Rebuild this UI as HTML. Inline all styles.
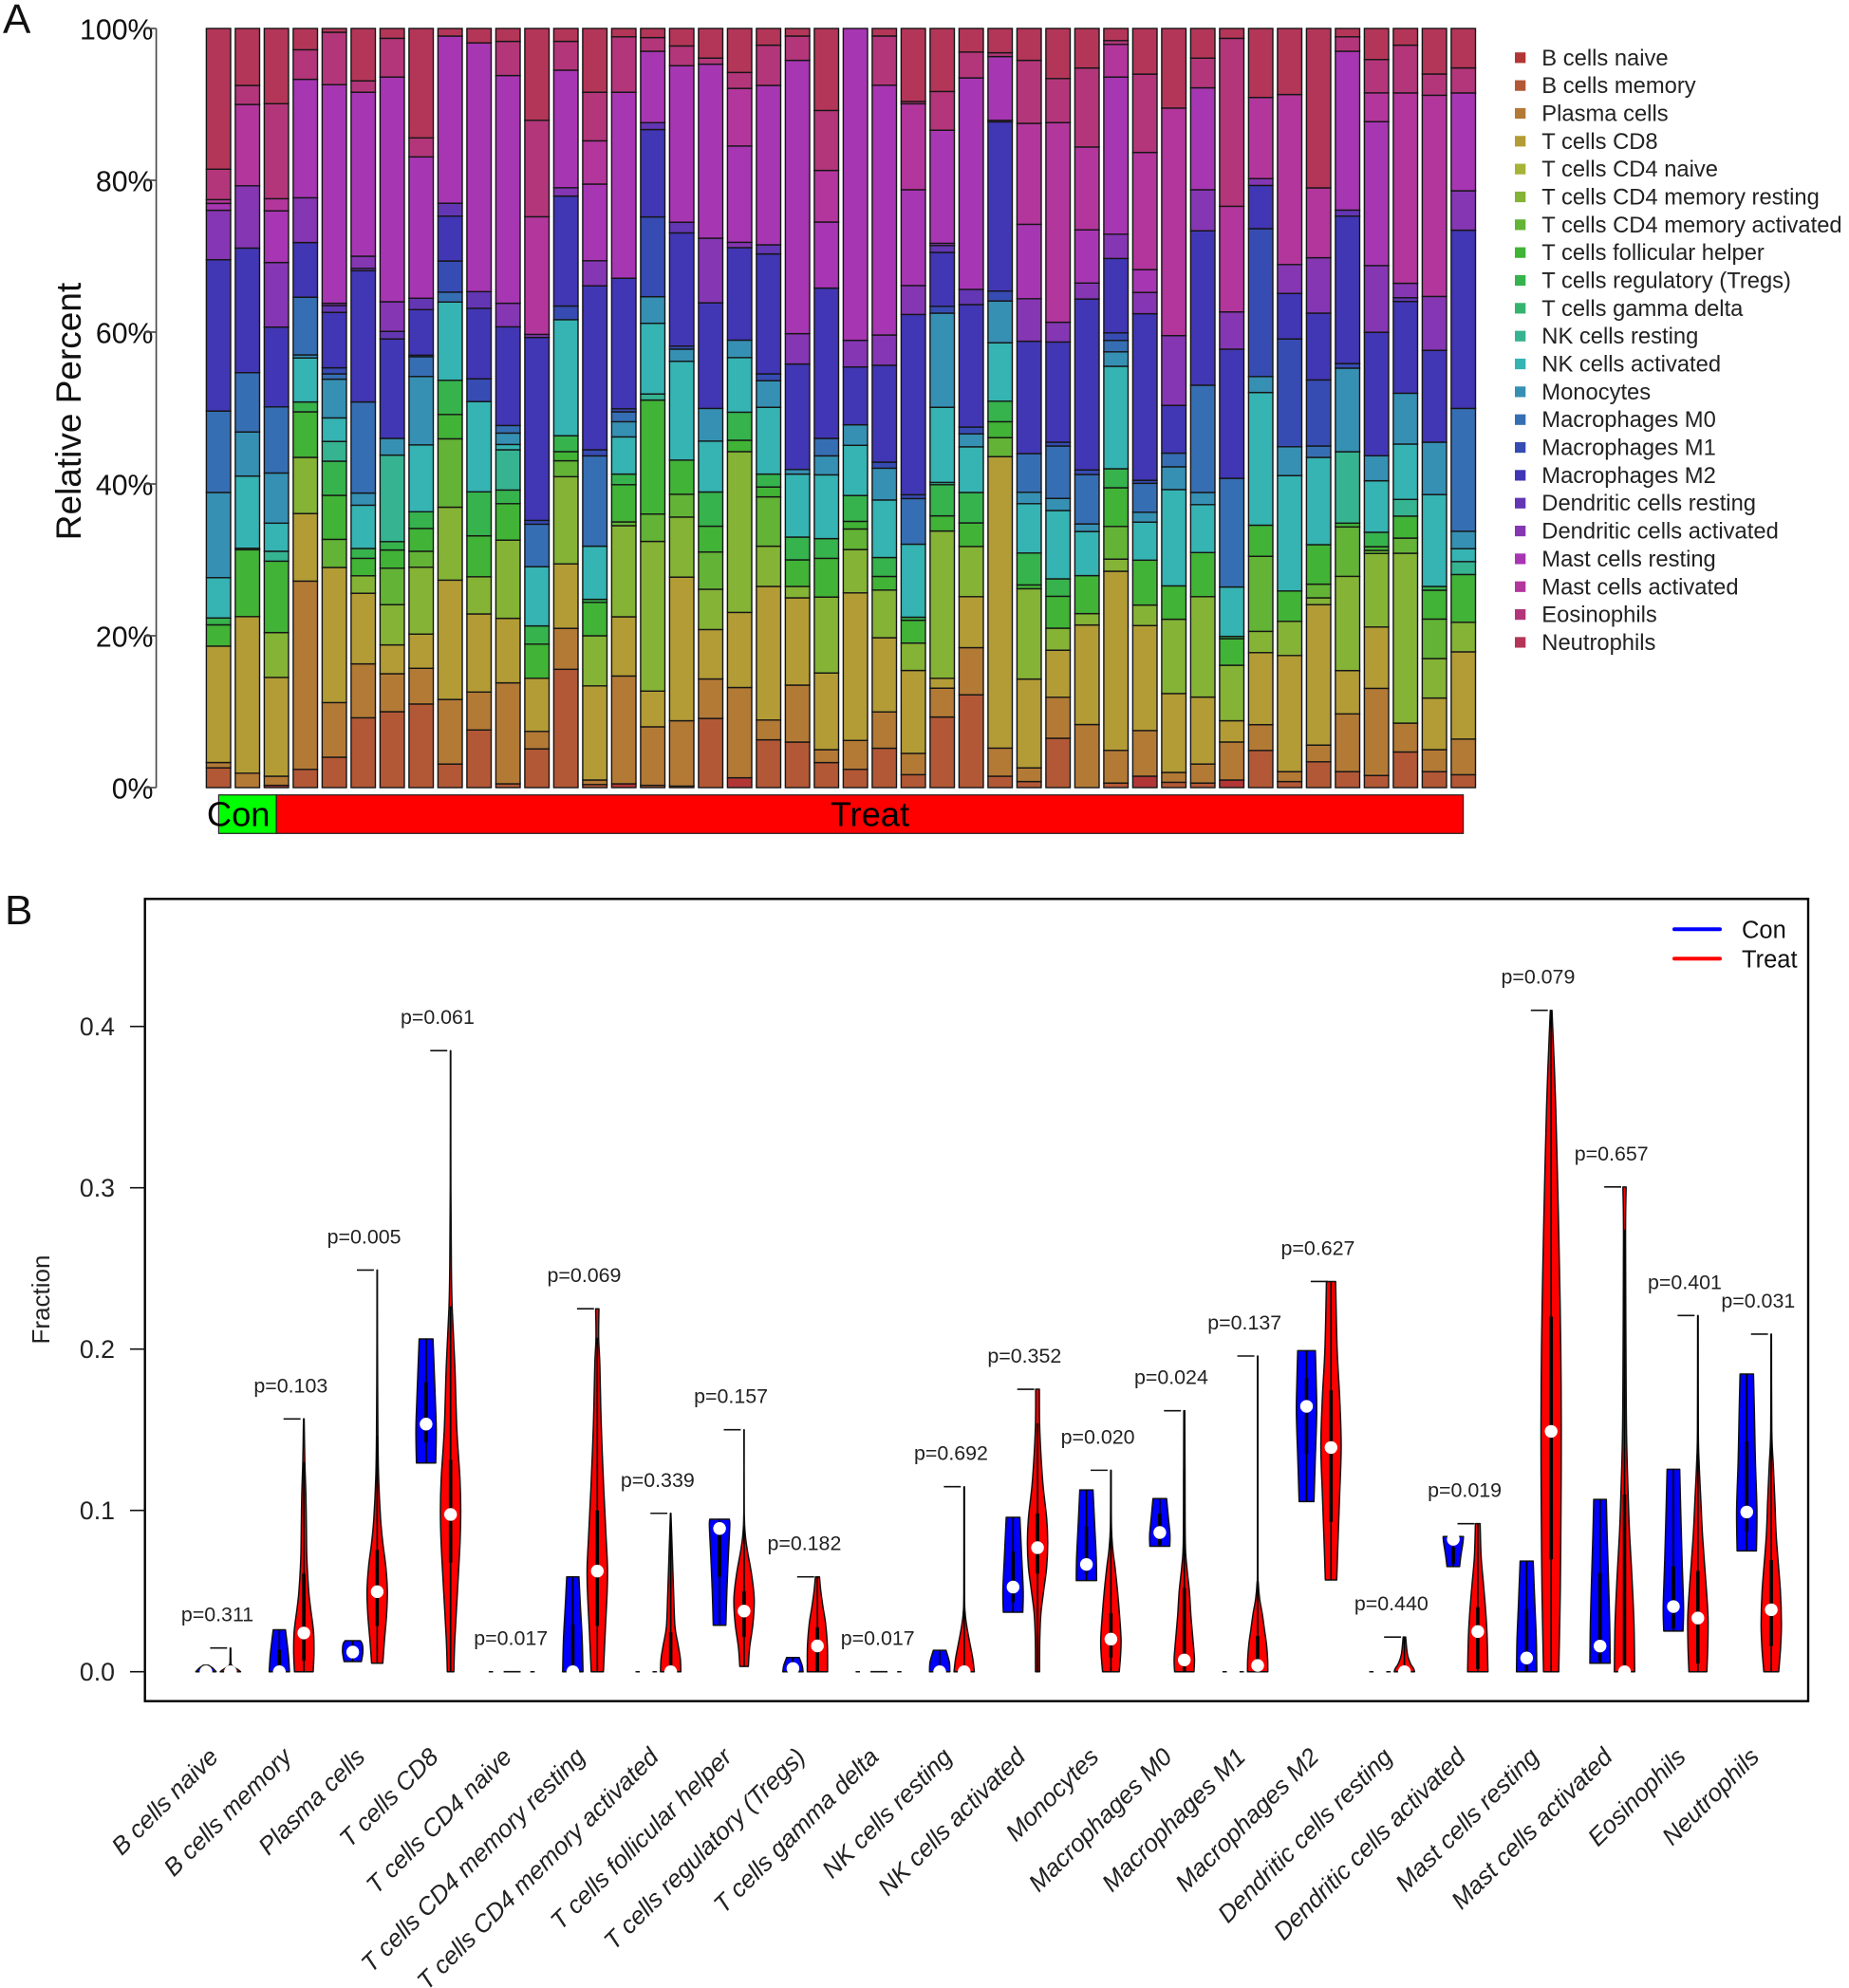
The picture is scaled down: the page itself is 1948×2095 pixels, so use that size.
<!DOCTYPE html>
<html lang="en">
<head>
<meta charset="utf-8">
<title>Immune cell fractions</title>
<style>
html,body{margin:0;padding:0;background:#fff;}
svg{display:block;}
text{font-family:"Liberation Sans",Arial,sans-serif;fill:#111;}
</style>
</head>
<body>
<svg id="figure" xmlns="http://www.w3.org/2000/svg" width="1948" height="2095" viewBox="0 0 1948 2095">
  <rect x="0" y="0" width="1948" height="2095" fill="#fff"/>
  <text x="3" y="35" font-size="44">A</text>
  <text x="5" y="974" font-size="44">B</text>
  <g id="panelA"></g>
  <g id="panelB"></g>
</svg>
<script>
const cellTypes = ["B cells naive","B cells memory","Plasma cells","T cells CD8","T cells CD4 naive","T cells CD4 memory resting","T cells CD4 memory activated","T cells follicular helper","T cells regulatory (Tregs)","T cells gamma delta","NK cells resting","NK cells activated","Monocytes","Macrophages M0","Macrophages M1","Macrophages M2","Dendritic cells resting","Dendritic cells activated","Mast cells resting","Mast cells activated","Eosinophils","Neutrophils"];
const percentTicks = [0,20,40,60,80,100];
const fractionTicks = [0,0.1,0.2,0.3,0.4];
const groupNames = ["Con","Treat"];
const groupSizes = [2,42];

// Percent of each cell type per sample, in cellTypes order
const s01=[0,2.6,.7,15.3,0,0,0,2.8,.9,0,0,5.3,11.2,10.7,0,19.9,0,6.5,.9,.5,4,18.5];
const s02=[0,0,1.9,20.6,0,0,0,8.8,.2,0,0,9.5,5.8,7.8,0,16.4,0,8.2,0,10.7,2.5,7.5];
const s03=[.3,0,1.2,13,0,5.9,0,9.4,0,0,1.3,3.7,6.6,8.7,0,10.5,0,8.5,6.8,1.6,12.5,9.9];
const s04=[0,2.4,24.8,8.9,0,7.4,0,6,1.3,0,0,5.8,.4,7.6,0,7.2,0,5.9,15.6,0,3.9,2.8];
const s05=[0,4,7.2,17.8,0,0,3.7,5.8,4.5,0,2.6,3.1,5.1,.7,.8,7.3,.9,.3,28.8,0,6.9,.5];
const s06=[0,9.2,7.1,9.3,0,2.3,0,2.3,1.3,0,0,5.7,1.6,12,0,17.3,.3,1.6,21.6,0,1.5,6.9];
const s07=[0,10,5,3.8,0,5.3,4.8,2.4,1.1,0,11.4,0,2.2,0,0,13.1,1,3.9,29.6,0,5.1,1.3];
const s08=[0,11,4.7,4.5,0,8.8,2.1,3,2.2,0,0,8.8,9,2.6,.2,6,1.5,0,18.6,0,2.5,14.4];
const s09=[0,3.1,8.5,15.7,0,9.6,9,3.2,4.5,0,0,10.3,0,1.3,4.1,5.9,1.7,0,22,0,0,1];
const s10=[0,7.6,5,10.3,0,4.9,0,5.4,5.8,0,0,11.9,0,0,3,9.3,2.2,0,32.8,0,0,1.9];
const s11=[0,.5,13.3,8.5,0,10.3,0,4.8,1.8,0,5.3,.7,1.5,1,0,13,0,3.1,30,0,4.5,1.7];
const s12=[0,5.1,2.3,7,0,0,0,4.5,2.4,0,0,7.8,0,5.6,.5,24.1,0,.4,0,15.5,12.7,12.1];
const s13=[0,15.6,5.4,8.5,0,11.5,2.1,1.2,2.1,0,0,15.3,0,0,1.8,14.5,0,1.1,15.5,0,3.8,1.7];
const s14=[0,.4,.6,12.4,0,6.6,0,4.4,.4,0,0,7,0,11.9,.8,21.6,0,3.3,10.1,5.7,6.4,8.4];
const s15=[.5,0,14.2,7.8,0,12,.5,4.9,1.4,0,0,4.9,2,1.3,.4,17.2,0,0,24.5,0,7.3,1.1];
const s16=[0,.3,7.7,4.7,0,19.7,3.6,15,0,0,.8,9.3,3.5,0,10.5,11.5,.9,0,9.4,0,1.8,1.2];
const s17=[0,.2,8.6,18.9,0,7.9,3,4.5,0,0,0,13,1.6,0,.4,14.9,1.4,0,20.6,0,2.6,2.3];
const s18=[0,9.1,5.2,6.5,0,5.3,4.9,3.4,4.5,0,0,6.7,4.3,0,0,13.9,0,8.5,22.9,0,.8,3.9];
const s19=[1.3,0,11.9,9.9,0,21.2,0,1.5,3.7,0,0,7.2,2.3,0,0,12.2,0,.7,12.7,7.6,2.1,5.8];
const s20=[0,6.3,2.6,17.6,0,5.3,6.5,1.3,1.7,0,0,8.8,3.5,0,.9,15.8,1.2,0,21,0,5.3,2.2];
const s21=[0,6,7.5,11.5,0,1.5,0,3.5,3,0,0,8.3,.6,0,0,13.9,0,4,36,0,3.2,1];
const s22=[0,3.3,1.7,10.1,0,10,0,5.1,2.6,0,0,8.4,2.5,2.3,0,19.8,0,0,8.7,6.8,7.9,10.8];
const s23=[0,2.4,3.8,19.4,0,5.7,2.7,1,3.4,0,0,6.6,2.7,0,0,7.6,0,3.5,41,0,0,0];
const s24=[0,5.2,4.8,9.8,0,6.3,0,1.8,2.5,0,0,7.6,4.2,0,.8,12.8,0,4,33,0,6.5,1];
const s25=[0,1.7,2.8,10.9,0,3.6,0,3,.4,0,0,9.6,0,6,.5,23.7,0,3.8,12.6,11.3,.3,9.6];
const s26=[0,9.3,3.8,1.3,0,19.4,0,2,4.1,0,.3,9.9,12.4,0,.9,7.1,.9,.3,14.9,0,5.1,8.3];
const s27=[0,12.2,6.2,6.7,0,6.6,0,3.1,4,0,0,6,1.7,0,.9,16.1,2,0,27.8,0,3.4,3.1];
const s28=[0,1.5,3.7,38.4,0,0,2.5,2.1,2.7,0,0,7.7,5.5,0,1.3,22.3,0,.2,8.4,0,.5,3.2];
const s29=[0,.8,1.8,11.7,0,11.9,0,.5,4.2,0,0,6.5,1.5,5.1,0,14.8,0,5.6,9.8,13.3,8.3,4.2];
const s30=[0,6.5,5.4,6.2,0,2.9,0,4.2,2.3,0,0,9,1.6,6.9,.5,13.2,0,2.6,0,26.3,5.8,6.6];
const s31=[0,0,8.3,13.1,0,1.5,0,5,0,0,0,5.8,1,6.5,.6,22.5,0,2.1,7,10.9,10.4,5.2];
const s32=[0,.6,4.3,23.6,0,1.6,4.3,5.1,2.5,0,0,13.5,1.9,1.5,1,9.8,0,3.2,20.7,4.3,.5,1.6];
const s33=[1.5,0,6,13.8,0,2.7,0,5.9,0,0,0,5,1.3,3.8,.4,21.9,0,2.8,3,15.4,10.3,6];
const s34=[0,.7,1.3,10.4,0,9.8,0,4.4,0,0,0,12.7,3,1.8,0,6.3,0,9.2,0,30,0,10.5];
const s35=[0,.6,2.5,8.8,0,13.2,0,5.8,0,0,0,6.3,1.6,14.1,0,20.3,0,5.4,13.4,0,3.9,3.9];
const s36=[1,0,5,2.8,0,7.3,0,3.5,.3,0,0,6.5,0,14.3,0,17,0,4.9,0,13.9,22.1,1.3];
const s37=[0,4.9,3.4,9.5,0,2.8,9.9,4.1,0,0,0,17.5,2.1,0,19.5,5.7,0,.9,0,10.7,0,9.1];
const s38=[0,.8,1.3,15.3,0,4.5,0,4,0,0,0,15.2,3.8,0,14.2,6,0,3.8,0,22.4,0,8.7];
const s39=[0,3.4,2.2,18.5,0,.9,1.8,5.2,0,0,0,11.5,0,1.5,8.7,8.8,0,7.3,0,9.2,0,21];
const s40=[0,2.1,7.6,5.7,0,12.4,6.5,.5,0,0,9.4,0,11,0,.6,19.4,.8,0,20.9,0,1.9,1.1];
const s41=[0,1.6,11.5,8.1,0,9.7,.4,.5,1.9,0,0,6.8,3.3,0,0,16.3,0,8.8,19,3.8,4.4,4.1];
const s42=[0,4.7,3.8,0,0,22.4,2,2.9,0,0,2.2,7.3,6.7,0,0,12.1,.5,1.9,0,25.1,6.3,2.2];
const s43=[0,2.1,2.9,6.8,0,5.2,5.2,3.8,.5,0,0,12.1,6.9,0,0,12.1,0,7.1,0,26.5,2.8,6];
const s44=[0,1.7,4.7,11.5,0,3.9,0,6.3,0,0,1.7,1.7,2.3,16.2,0,23.5,0,5.2,12.9,0,3.3,5.2];
const samples=[s01,s02,s03,s04,s05,s06,s07,s08,s09,s10,s11,s12,s13,s14,s15,s16,s17,s18,s19,s20,s21,s22,s23,s24,s25,s26,s27,s28,s29,s30,s31,s32,s33,s34,s35,s36,s37,s38,s39,s40,s41,s42,s43,s44];

const pValues = ["0.311","0.103","0.005","0.061","0.017","0.069","0.339","0.157","0.182","0.017","0.692","0.352","0.020","0.024","0.137","0.627","0.440","0.019","0.079","0.657","0.401","0.031"];

// Violin outlines: [fraction, relative density]
const conShapes = [
 [[0,1],[.001,.85],[.002,.7],[.003,.5],[.004,.25]],
 [[0,1],[.01,.9],[.02,.72],[.026,.6]],
 [[.0063,.85],[.012,1],[.017,.95],[.0192,.75]],
 [[.1294,.95],[.15,1],[.17,.9],[.19,.78],[.2063,.68]],
 [[0,1],[0,1]],
 [[0,1],[.02,.92],[.04,.75],[.0588,.6]],
 [[0,1],[0,1]],
 [[.0288,.62],[.05,.72],[.07,.85],[.09,1],[.0945,.96]],
 [[0,1],[.004,.9],[.0088,.62]],
 [[0,1],[0,1]],
 [[0,1],[.006,.95],[.0133,.62]],
 [[.0369,.96],[.05,1],[.07,.86],[.085,.75],[.0957,.67]],
 [[.0565,1],[.07,.97],[.09,.82],[.1127,.65]],
 [[.0778,.98],[.085,1],[.095,.85],[.1073,.67]],
 [[0,1],[0,1]],
 [[.1055,.73],[.13,.85],[.16,1],[.18,.95],[.199,.87]],
 [[0,1],[0,1]],
 [[.0652,.62],[.072,.75],[.08,.95],[.0838,1]],
 [[0,1],[.02,.95],[.04,.82],[.0686,.64]],
 [[.0053,1],[.03,.95],[.06,.82],[.085,.7],[.1068,.62]],
 [[.0252,.95],[.04,1],[.07,.85],[.1,.72],[.1255,.62]],
 [[.0749,.95],[.1,1],[.13,.85],[.16,.75],[.1845,.66]]
];
const treatShapes = [
 [[0,1],[.001,.8],[.002,.55],[.003,.3],[.004,.12],[.006,.04],[.0147,.02]],
 [[0,.92],[.012,1],[.025,.95],[.04,.65],[.05,.48],[.07,.3],[.09,.25],[.11,.2],[.13,.1],[.1567,.03]],
 [[.0053,.55],[.02,.72],[.035,.92],[.05,1],[.065,.85],[.08,.55],[.095,.33],[.12,.14],[.146,.07],[.2,.03],[.249,.02]],
 [[0,.32],[.02,.42],[.05,.68],[.08,.93],[.1,1],[.12,.92],[.15,.62],[.19,.42],[.225,.16],[.25,.08],[.3,.03],[.385,.02]],
 [[0,1],[0,1]],
 [[0,.6],[.025,.78],[.05,.97],[.065,1],[.085,.85],[.115,.62],[.154,.38],[.19,.25],[.207,.13],[.225,.16]],
 [[0,1],[.008,.95],[.017,.72],[.028,.42],[.05,.28],[.075,.15],[.0982,.02]],
 [[.0033,.42],[.015,.55],[.03,.88],[.045,1],[.06,.75],[.075,.33],[.085,.12],[.1,.02],[.15,.015]],
 [[0,1],[.016,.98],[.03,.8],[.04,.55],[.05,.33],[.0588,.2]],
 [[0,1],[0,1]],
 [[0,1],[.008,.85],[.017,.58],[.0265,.3],[.036,.1],[.05,.03],[.1147,.02]],
 [[0,.2],[.02,.22],[.036,.33],[.05,.6],[.065,.9],[.08,1],[.095,.9],[.115,.55],[.135,.33],[.154,.2],[.1751,.18]],
 [[0,.82],[.01,.95],[.02,1],[.035,.85],[.05,.65],[.065,.4],[.075,.2],[.09,.05],[.1249,.02]],
 [[0,.95],[.008,1],[.02,.85],[.035,.65],[.05,.5],[.065,.25],[.08,.1],[.125,.07],[.1618,.05]],
 [[0,1],[.008,.98],[.017,.87],[.027,.65],[.036,.45],[.045,.2],[.055,.06],[.07,.02],[.1957,.015]],
 [[.0569,.56],[.08,.68],[.11,.85],[.14,1],[.17,.85],[.2,.6],[.2419,.45]],
 [[0,1],[.002,.9],[.005,.6],[.0107,.3],[.0215,.12]],
 [[0,1],[.01,.97],[.025,.9],[.04,.75],[.055,.55],[.0715,.33],[.0918,.23]],
 [[0,.75],[.05,.9],[.1,.97],[.15,1],[.2,.95],[.25,.82],[.3,.65],[.35,.45],[.38,.28],[.41,.08]],
 [[0,1],[.03,.93],[.06,.72],[.085,.5],[.105,.38],[.14,.22],[.173,.16],[.27,.1],[.3005,.16]],
 [[0,.88],[.015,.97],[.033,1],[.05,.85],[.083,.47],[.105,.3],[.128,.13],[.15,.04],[.2208,.02]],
 [[0,.73],[.015,.92],[.03,1],[.05,.9],[.083,.5],[.105,.36],[.128,.2],[.15,.05],[.2093,.02]]
];
const conMedians = [0,0,.0122,.1535,0,0,0,.0888,.002,0,0,.0525,.0665,.0863,0,.1645,0,.0821,.0085,.0159,.0404,.099];
const conQ1 = [0,0,.0095,.1422,0,0,0,.0588,0,0,0,.0431,.0608,.0785,0,.1349,0,.067,0,.0062,.0268,.0868];
const conQ3 = [0,.0137,.0165,.1794,0,.0294,0,.09,.004,0,.002,.0745,.09,.098,0,.1821,0,.0772,.0389,.0613,.0653,.1427];
const treatMedians = [0,.024,.0496,.0975,0,.0624,0,.0376,.016,0,0,.0769,.0202,.0073,.0039,.139,0,.0249,.149,0,.0333,.0384];
const treatQ1 = [0,.0069,.0284,.0676,0,.0284,0,.0216,0,0,0,.0608,.0088,0,0,.0929,0,.0017,.0697,0,.0051,.0159];
const treatQ3 = [0,.0608,.0755,.1314,0,.1,.0245,.05,.0275,0,.004,.098,.0363,.052,.0222,.1744,.003,.04,.2201,.1098,.0625,.0692];
const treatWhiskerHigh = [.0147,.13,.146,.2265,0,.207,.0982,.09,.0588,0,.1147,.154,.1249,.125,.1957,.2419,.0215,.0918,.41,.274,.2208,.2093];

const SVG_NS = "http://www.w3.org/2000/svg";
function make(tag, attrs, parent, text) {
  const el = document.createElementNS(SVG_NS, tag);
  for (const k in attrs) el.setAttribute(k, attrs[k]);
  if (text !== undefined) el.textContent = text;
  parent.appendChild(el);
  return el;
}
function rainbowColor(i, n) {
  const h = (i / n) * 6, hi = Math.floor(h), f = h - hi;
  const v = 178.5, p = 53.55, q = v - 124.95 * f, t = p + 124.95 * f;
  const rgb = [[v,t,p],[q,v,p],[p,v,t],[p,q,v],[t,p,v],[v,p,q]][hi % 6];
  return "rgb(" + rgb.map(Math.round).join(",") + ")";
}

/* ---------- Panel A ---------- */
const panelA = document.getElementById("panelA");
const yPct = p => 830 - 8 * p;
const barX = i => 217.4 + 30.5 * i;
const barWidth = 25.6;
const annTotal = groupSizes.reduce((a, b) => a + b, 0);
const annX = n => 230.4 + 29.8 * n + (n > 0 && n < annTotal ? 1.2 : 0);

samples.forEach((values, s) => {
  const g = make("g", {}, panelA);
  
  
  const total = values.reduce((a, b) => a + b, 0);
  let cum = 0;
  values.forEach((v, t) => {
    if (v <= 0) return;
    const y1 = yPct(cum / total * 100);
    cum += v;
    const y2 = yPct(cum / total * 100);
    const seg = make("rect", {x: barX(s), y: y2, width: barWidth, height: y1 - y2, fill: rainbowColor(t, cellTypes.length), stroke: "#151515", "stroke-width": 1.4}, g);
    
    
  });
});

const axisA = make("line", {x1: 164.6, x2: 164.6, y1: yPct(100), y2: yPct(0), stroke: "#444", "stroke-width": 1.6}, panelA);


percentTicks.forEach(p => {
  const lab = make("text", {x: 161.5, y: yPct(p) + 11.3, "font-size": 30.3, "text-anchor": "end"}, panelA, p + "%");
  
  
  const tick = make("line", {x1: 152, x2: 164.6, y1: yPct(p), y2: yPct(p), stroke: "#444", "stroke-width": 1.6}, panelA);
  
  
});
const yTitleA = make("text", {transform: "translate(85,433.5) rotate(-90)", "font-size": 37, "text-anchor": "middle"}, panelA, "Relative Percent");



let startCount = 0;
groupNames.forEach((name, i) => {
  const x1 = annX(startCount), x2 = annX(startCount + groupSizes[i]);
  const bar = make("rect", {x: x1, y: 837.7, width: x2 - x1, height: 40.6, fill: i === 0 ? "#00ff00" : "#ff0000", stroke: "#222", "stroke-width": 1.2}, panelA);
  
  
  startCount += groupSizes[i];
});
startCount = 0;
groupNames.forEach((name, i) => {
  const x1 = annX(startCount), x2 = annX(startCount + groupSizes[i]);
  const shift = i === 0 ? -9.6 : 0;
  const lab = make("text", {x: (x1 + x2) / 2 + shift, y: 870.5, "font-size": 36.3, "text-anchor": "middle", style: "fill:#000"}, panelA, name);
  
  
  startCount += groupSizes[i];
});

cellTypes.forEach((name, i) => {
  const cy = 60.8 + 29.34 * i;
  const entry = make("g", {}, panelA);
  
  
  const sw = make("rect", {x: 1596, y: cy - 5.6, width: 11.3, height: 11.2, fill: rainbowColor(i, cellTypes.length)}, entry);
  
  
  const t = make("text", {x: 1624.3, y: cy + 8, "font-size": 23.75, style: "fill:#222"}, entry, name);
  
  
});

/* ---------- Panel B ---------- */
const panelB = document.getElementById("panelB");
const yFrac = v => 1761.7 - 1700 * v;
const conX = i => 217 + 77.3 * i;
const treatX = i => conX(i) + 25.8;
const maxHalfWidth = 10.7;

const clip = make("clipPath", {id: "dotClip"}, panelB);
make("rect", {x: 152, y: 947, width: 1753, height: yFrac(0) + 1 - 947}, clip);

const frame = make("rect", {x: 152.7, y: 947.3, width: 1752.3, height: 845.4, fill: "none", stroke: "#000", "stroke-width": 2.4}, panelB);



fractionTicks.forEach(v => {
  const tick = make("line", {x1: 137, x2: 152.7, y1: yFrac(v), y2: yFrac(v), stroke: "#111", "stroke-width": 1.6}, panelB);
  
  
  const lab = make("text", {x: 121, y: yFrac(v) + 9.5, "font-size": 26.7, "text-anchor": "end", style: "fill:#222"}, panelB, v.toFixed(1));
  
  
});
const yTitleB = make("text", {transform: "translate(52,1369.5) rotate(-90)", "font-size": 26, "text-anchor": "middle", style: "fill:#222"}, panelB, "Fraction");



function sidePath(points) {
  let d = "";
  for (let i = 0; i < points.length - 1; i++) {
    const p0 = points[Math.max(i - 1, 0)], p1 = points[i], p2 = points[i + 1], p3 = points[Math.min(i + 2, points.length - 1)];
    const c1x = p1[0] + (p2[0] - p0[0]) / 6, c1y = p1[1] + (p2[1] - p0[1]) / 6;
    const c2x = p2[0] - (p3[0] - p1[0]) / 6, c2y = p2[1] - (p3[1] - p1[1]) / 6;
    d += " C" + c1x.toFixed(2) + " " + c1y.toFixed(2) + " " + c2x.toFixed(2) + " " + c2y.toFixed(2) + " " + p2[0].toFixed(2) + " " + p2[1].toFixed(2);
  }
  return d;
}
function drawViolin(parent, cx, shape, q1, q3, whiskerHigh, fill) {
  const left = shape.map(s => [cx - s[1] * maxHalfWidth, yFrac(s[0])]);
  const right = shape.map(s => [cx + s[1] * maxHalfWidth, yFrac(s[0])]).reverse();
  const d = "M" + left[0][0].toFixed(2) + " " + left[0][1].toFixed(2) + sidePath(left) +
    " L" + right[0][0].toFixed(2) + " " + right[0][1].toFixed(2) + sidePath(right) + " Z";
  const body = make("path", {d: d, fill: fill, stroke: "#111", "stroke-width": 1.5, "stroke-linejoin": "round"}, parent);
  
  
  const whisker = make("line", {x1: cx, x2: cx, y1: yFrac(shape[0][0]), y2: yFrac(whiskerHigh), stroke: "#000", "stroke-width": 1.7}, parent);
  
  
  const iqr = make("line", {x1: cx, x2: cx, y1: yFrac(q1), y2: yFrac(q3), stroke: "#000", "stroke-width": 3.6}, parent);
  
  
}

cellTypes.forEach((name, i) => {
  const g = make("g", {}, panelB);
  
  
  const cs = conShapes[i], ts = treatShapes[i];
  drawViolin(g, conX(i), cs, conQ1[i], conQ3[i], cs[cs.length - 1][0], "#0000ff");
  drawViolin(g, treatX(i), ts, treatQ1[i], treatQ3[i], treatWhiskerHigh[i], "#ff0000");

  const dots = make("g", {"clip-path": "url(#dotClip)"}, g);
  
  
  const d1 = make("circle", {cx: conX(i), cy: yFrac(conMedians[i]), r: 6.7, fill: "#fff"}, dots);
  
  
  const d2 = make("circle", {cx: treatX(i), cy: yFrac(treatMedians[i]), r: 6.7, fill: "#fff"}, dots);
  
  

  const mx = Math.max(cs[cs.length - 1][0], ts[ts.length - 1][0]);
  const dash = make("line", {x1: conX(i) + 4.4, x2: conX(i) + 22.3, y1: yFrac(mx), y2: yFrac(mx), stroke: "#111", "stroke-width": 1.6}, g);
  
  
  const pt = make("text", {x: conX(i) + 12, y: yFrac(mx) - 28, "font-size": 21.4, "text-anchor": "middle", style: "fill:#222"}, g, "p=" + pValues[i]);
  
  

  const bx = conX(i) + 14.5, by = 1853;
  const xl = make("text", {transform: "translate(" + bx + "," + by + ") rotate(-45)", "font-size": 26, "font-style": "italic", "text-anchor": "end", style: "fill:#222"}, panelB, name);
  
  
});

groupNames.forEach((name, i) => {
  const y = 979.3 + 31 * i;
  const entry = make("g", {}, panelB);
  
  
  const ln = make("line", {x1: 1764, x2: 1812, y1: y, y2: y, stroke: i === 0 ? "#0000ff" : "#ff0000", "stroke-width": 4, "stroke-linecap": "round"}, entry);
  
  
  const t = make("text", {x: 1835, y: y + 9.2, "font-size": 25.5, style: "fill:#111"}, entry, name);
  
  
});
</script>
</body>
</html>
